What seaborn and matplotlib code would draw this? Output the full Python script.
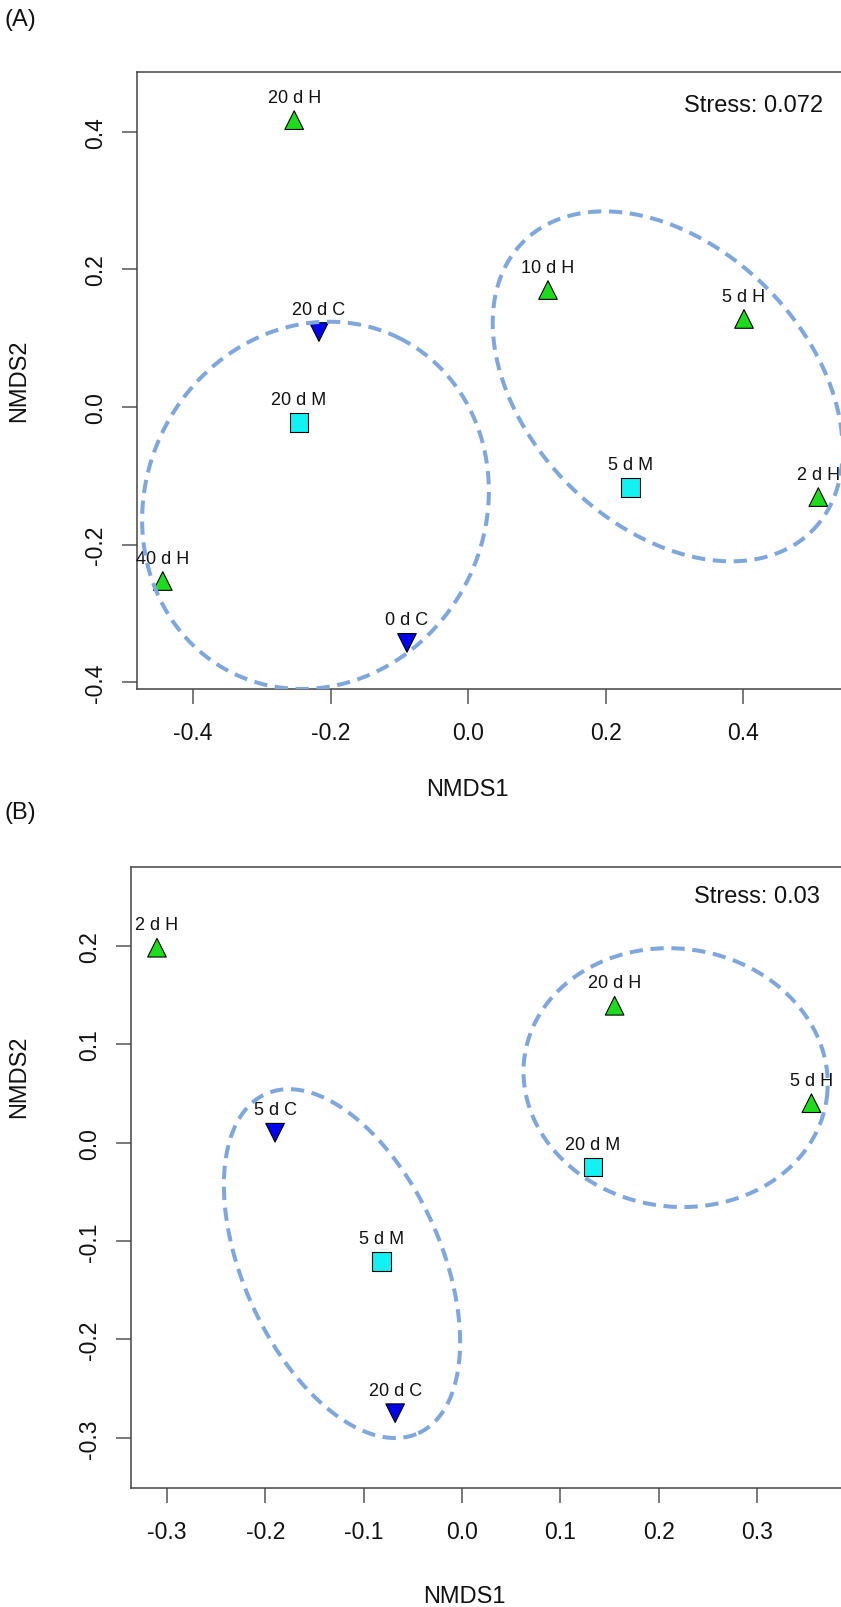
import numpy as np
import pandas as pd
import matplotlib
matplotlib.use("Agg")
import matplotlib.pyplot as plt
import seaborn as sns

# ---------------- data ----------------
# Panel A
a_labels = ["20 d H", "10 d H", "5 d H", "2 d H", "40 d H", "20 d C", "0 d C", "20 d M", "5 d M"]
a_x = [-0.253, 0.116, 0.401, 0.509, -0.444, -0.217, -0.089, -0.246, 0.236]
a_y = [0.417, 0.170, 0.128, -0.131, -0.253, 0.109, -0.343, -0.023, -0.117]
a_group = ["H", "H", "H", "H", "H", "C", "C", "M", "M"]
a_stress = "Stress: 0.072"

# Panel B
b_labels = ["2 d H", "20 d H", "5 d H", "5 d C", "20 d C", "5 d M", "20 d M"]
b_x = [-0.310, 0.155, 0.355, -0.190, -0.068, -0.082, 0.133]
b_y = [0.198, 0.139, 0.040, 0.010, -0.275, -0.121, -0.025]
b_group = ["H", "H", "H", "C", "C", "M", "M"]
b_stress = "Stress: 0.03"

# ellipses: centre x, centre y, semi-axis a, semi-axis b, angle (deg)
a_ell_cx = [-0.222, 0.290]
a_ell_cy = [-0.143, 0.030]
a_ell_a = [0.272, 0.297]
a_ell_b = [0.2466, 0.203]
a_ell_ang = [63.0, -45.0]

b_ell_cx = [-0.122, 0.217]
b_ell_cy = [-0.123, 0.066]
b_ell_a = [0.189, 0.155]
b_ell_b = [0.1005, 0.131]
b_ell_ang = [-65.8, -8.0]

a_xticks = [-0.4, -0.2, 0.0, 0.2, 0.4]
a_yticks = [-0.4, -0.2, 0.0, 0.2, 0.4]
b_xticks = [-0.3, -0.2, -0.1, 0.0, 0.1, 0.2, 0.3]
b_yticks = [-0.3, -0.2, -0.1, 0.0, 0.1, 0.2]

# ---------------- style ----------------
sns.set_theme(style="ticks")
plt.rcParams["font.family"] = ["Liberation Sans", "DejaVu Sans"]

W, H = 841, 1608
fig = plt.figure(figsize=(W / 100, H / 100), dpi=100)

palette = {"H": "#1CDC1C", "C": "#0000EE", "M": "#12F2F2"}
markers = {"H": "^", "C": "v", "M": "s"}
ELL_COLOR = "#7FA7DC"
BOX = "#444444"


def make_axes(left_px, top_px, bottom_px, xlim, ylim):
    px_per_unit_y = (bottom_px - top_px) / (ylim[1] - ylim[0])
    width_px = (xlim[1] - xlim[0]) * px_per_unit_y
    ax = fig.add_axes([left_px / W, 1 - bottom_px / H, width_px / W, (bottom_px - top_px) / H])
    ax.set_xlim(*xlim)
    ax.set_ylim(*ylim)
    return ax


def draw_panel(ax, labels, xs, ys, groups, ecx, ecy, ea, eb, eang, xticks, yticks,
               stress, stress_xy, xlabel_px, ylabel_px):
    df = pd.DataFrame({"x": xs, "y": ys, "group": groups, "label": labels})
    sns.scatterplot(data=df, x="x", y="y", hue="group", style="group",
                    palette=palette, markers=markers, s=180,
                    edgecolor="black", linewidth=0.8, legend=False, ax=ax, zorder=3)
    for _, r in df.iterrows():
        ax.annotate(r["label"], (r["x"], r["y"]), xytext=(0, 16.5),
                    textcoords="offset points", ha="center", va="center",
                    fontsize=13, color="#111111", zorder=4)
    t = np.linspace(0, 2 * np.pi, 500)
    for cx, cy, a, b, ang in zip(ecx, ecy, ea, eb, eang):
        th = np.deg2rad(ang)
        ex = cx + a * np.cos(t) * np.cos(th) - b * np.sin(t) * np.sin(th)
        ey = cy + a * np.cos(t) * np.sin(th) + b * np.sin(t) * np.cos(th)
        ax.plot(ex, ey, color=ELL_COLOR, lw=2.9, linestyle=(0, (3.3, 1.9)),
                zorder=5, solid_capstyle="butt", dash_capstyle="butt")
    ax.set_xticks(xticks)
    ax.set_yticks(yticks)
    ax.set_xticklabels([f"{v:.1f}" for v in xticks])
    ax.set_yticklabels([f"{v:.1f}" for v in yticks], rotation=90, va="center")
    ax.tick_params(axis="both", direction="out", length=10.8, width=1.1,
                   color="#555555", labelsize=16.5, labelcolor="#111111")
    ax.tick_params(axis="x", pad=12)
    ax.tick_params(axis="y", pad=11)
    for sp in ax.spines.values():
        sp.set_color(BOX)
        sp.set_linewidth(1.1)
    ax.text(stress_xy[0], stress_xy[1], stress, ha="right", va="center",
            fontsize=17, color="#111111")
    ax.set_xlabel("NMDS1", fontsize=17, color="#111111", va="center")
    ax.set_ylabel("NMDS2", fontsize=17, color="#111111", va="center")
    ax.xaxis.set_label_coords(xlabel_px[0] / W, 1 - xlabel_px[1] / H, transform=fig.transFigure)
    ax.yaxis.set_label_coords(ylabel_px[0] / W, 1 - ylabel_px[1] / H, transform=fig.transFigure)


axA = make_axes(137, 73, 690, (-0.4815, 0.62), (-0.410, 0.487))
draw_panel(axA, a_labels, a_x, a_y, a_group, a_ell_cx, a_ell_cy, a_ell_a, a_ell_b, a_ell_ang,
           a_xticks, a_yticks, a_stress, (0.516, 0.439), (467, 790), (19, 381))

axB = make_axes(131, 868, 1489, (-0.3364, 0.42), (-0.351, 0.280))
draw_panel(axB, b_labels, b_x, b_y, b_group, b_ell_cx, b_ell_cy, b_ell_a, b_ell_b, b_ell_ang,
           b_xticks, b_yticks, b_stress, (0.364, 0.251), (464, 1597), (19, 1077))

fig.text(20 / W, 1 - 20 / H, "(A)", ha="center", va="center", fontsize=17, color="#111111")
fig.text(20 / W, 1 - 813 / H, "(B)", ha="center", va="center", fontsize=17, color="#111111")

fig.savefig("out.png", dpi=100)
